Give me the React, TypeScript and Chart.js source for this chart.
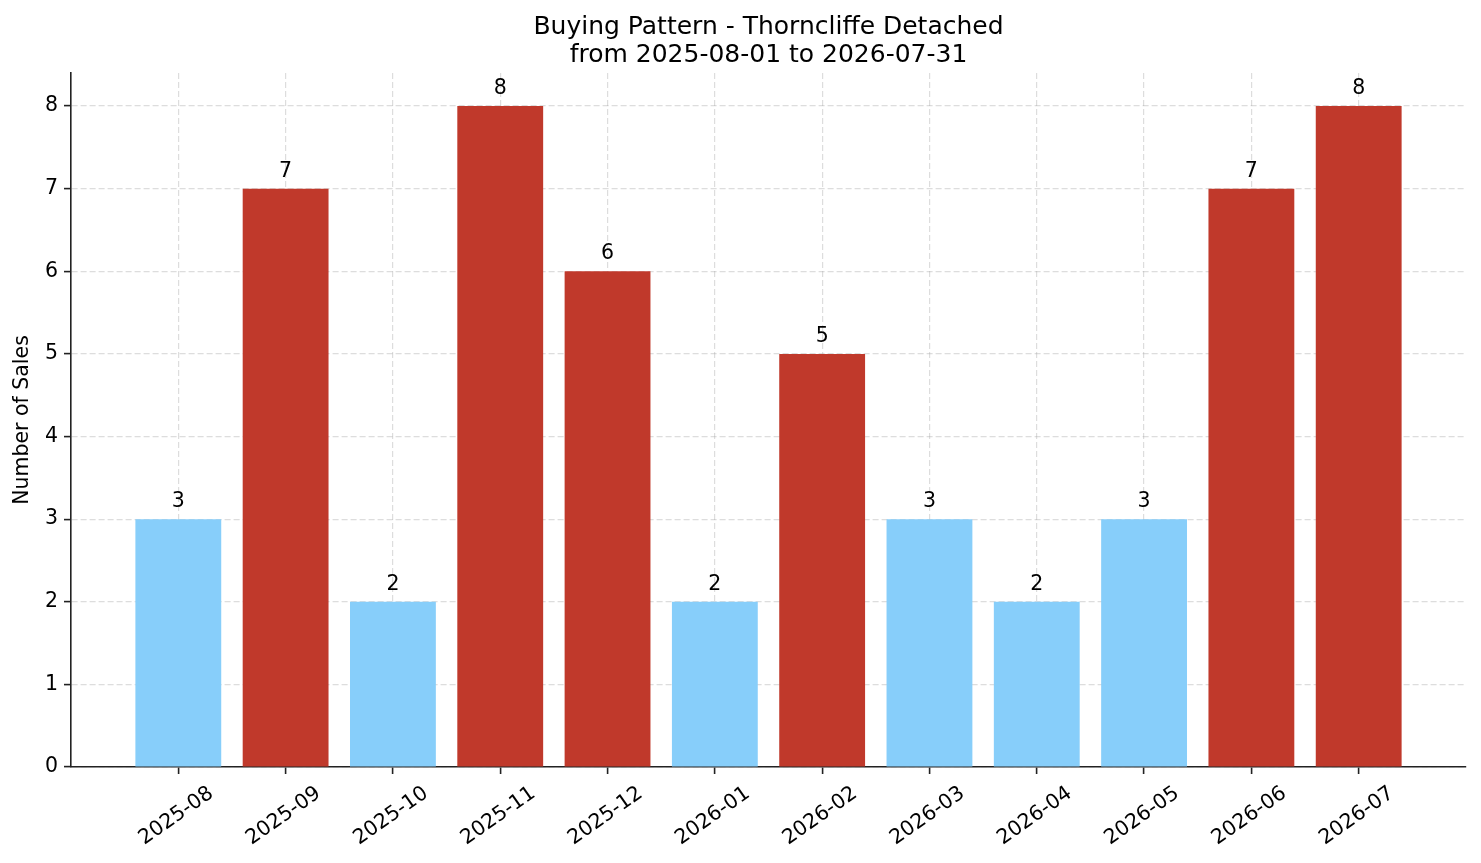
import { useEffect, useRef } from 'react';
import Chart from 'chart.js/auto';

// monthly sales counts
const months = ['2025-08', '2025-09', '2025-10', '2025-11', '2025-12', '2026-01', '2026-02', '2026-03', '2026-04', '2026-05', '2026-06', '2026-07'];
const sales = [3, 7, 2, 8, 6, 2, 5, 3, 2, 3, 7, 8];
const yTicks = [0, 1, 2, 3, 4, 5, 6, 7, 8];
const titleLines = ['Buying Pattern - Thorncliffe Detached', 'from 2025-08-01 to 2026-07-31'];
const yAxisTitle = 'Number of Sales';

const FONT = '"DejaVu Sans", sans-serif';
const RED = '#c0392b';
const BLUE = '#87cefa';
const GRID = 'rgba(165,165,165,0.38)';
const INK = '#222';

const average = sales.reduce((a, b) => a + b, 0) / sales.length;

const textPlugin = {
  id: 'texts',
  afterDraw(chart: any) {
    const { ctx, chartArea, scales } = chart;
    ctx.save();
    ctx.fillStyle = '#000';

    // title
    ctx.font = `25px ${FONT}`;
    ctx.textAlign = 'center';
    ctx.textBaseline = 'alphabetic';
    const cx = (chartArea.left + chartArea.right) / 2;
    titleLines.forEach((t, i) => ctx.fillText(t, cx, 33.5 + i * 28.5));

    // value labels on top of bars
    ctx.font = `20.5px ${FONT}`;
    const meta = chart.getDatasetMeta(0);
    meta.data.forEach((bar: any, i: number) => {
      ctx.fillText(String(sales[i]), bar.x, bar.y - 12);
    });

    // rotated x labels, centred under the ticks
    const ang = (35 * Math.PI) / 180;
    ctx.textBaseline = 'middle';
    months.forEach((m, i) => {
      const x = scales.x.getPixelForValue(i);
      ctx.save();
      ctx.translate(x - 2, chartArea.bottom + 49);
      ctx.rotate(-ang);
      ctx.fillText(m, 0, 0);
      ctx.restore();
    });

    // y axis title
    ctx.save();
    ctx.translate(23, (chartArea.top + chartArea.bottom) / 2);
    ctx.rotate(-Math.PI / 2);
    ctx.fillText(yAxisTitle, 0, 0);
    ctx.restore();

    ctx.restore();
  },
};

const App = () => {
  const canvasRef = useRef<HTMLCanvasElement | null>(null);

  useEffect(() => {
    document.body.style.margin = '0';
    if (!canvasRef.current) return;
    const ctx = canvasRef.current.getContext('2d');
    if (!ctx) return;

    const chart = new Chart(ctx, {
      type: 'bar',
      data: {
        datasets: [{
          data: sales.map((v, i) => ({ x: i, y: v })),
          backgroundColor: sales.map(v => (v > average ? RED : BLUE)),
          barPercentage: 0.8,
          categoryPercentage: 1,
        }],
      },
      options: {
        animation: false,
        responsive: true,
        maintainAspectRatio: false,
        layout: { padding: { top: 73, right: 15, left: 0, bottom: 0 } },
        plugins: {
          legend: { display: false },
          tooltip: { enabled: false },
          title: { display: false },
        },
        scales: {
          x: {
            type: 'linear',
            min: -1,
            max: 12,
            offset: false,
            z: 1,
            grid: { offset: false, color: GRID, lineWidth: 1.2, tickLength: 7, tickColor: INK, tickWidth: 1.6 },
            border: { color: INK, width: 1.6, dash: [6, 3] },
            ticks: { display: false },
            afterBuildTicks: (s: any) => { s.ticks = months.map((_, i) => ({ value: i })); },
            afterFit: (s: any) => { s.height = 96; },
          },
          y: {
            min: 0,
            max: 8.4,
            z: 1,
            grid: { color: GRID, lineWidth: 1.2, tickLength: 7, tickColor: INK, tickWidth: 1.6 },
            border: { color: INK, width: 1.6, dash: [6, 3] },
            ticks: { color: '#000', font: { family: FONT, size: 20.5 }, padding: 6 },
            afterBuildTicks: (s: any) => { s.ticks = yTicks.map(v => ({ value: v })); },
            afterFit: (s: any) => { s.width = 71; },
          },
        },
      },
      plugins: [textPlugin],
    });

    return () => chart.destroy();
  }, []);

  return (
    <div style={{ width: 1481, height: 863, position: 'relative', background: '#fff' }}>
      <canvas ref={canvasRef}></canvas>
    </div>
  );
};

export default App;
